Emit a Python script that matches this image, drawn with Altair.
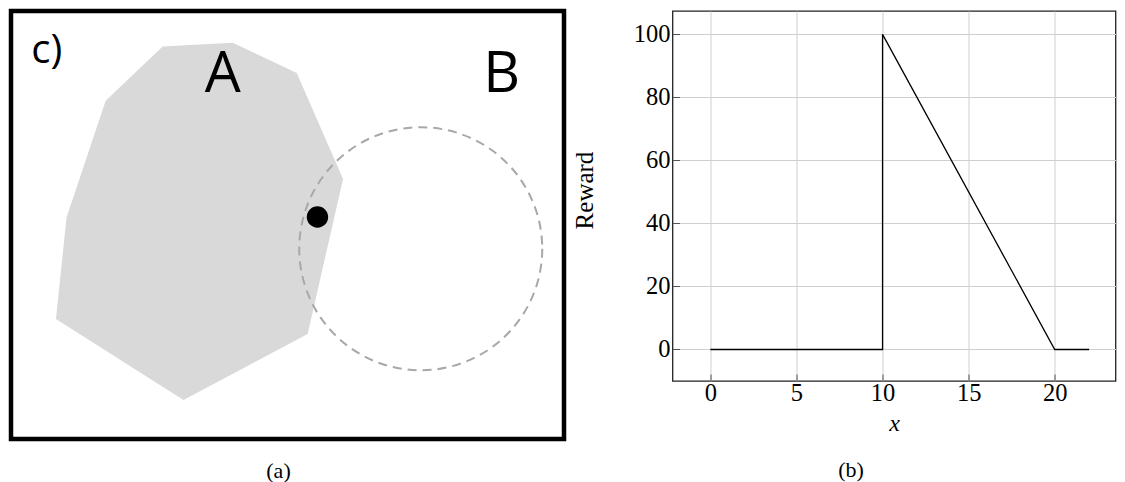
import math
import altair as alt
import pandas as pd

# ---------------- panel (a): diagram (coordinates in figure pixels) ----------------
poly_x = [161.9, 232.0, 296.0, 342.3, 306.9, 182.7, 55.2, 65.8, 104.9]
poly_y = [45.7, 42.0, 72.3, 178.3, 333.3, 399.3, 318.3, 216.7, 100.0]
circle_x = [420.0]
circle_y = [248.0]
circle_r = 121.5
dot_x = [316.7]
dot_y = [216.3]
dot_r = 10.7
label_text = ["c)", "A", "B"]
label_x = [46.0, 222.0, 501.0]
label_y = [62.5, 91.7, 91.7]
label_size = [40, 57, 57]

# ---------------- panel (b): reward curve ----------------
reward_x = [0, 10, 10, 20, 22]
reward_y = [0, 0, 100, 0, 0]
x_ticks = [0, 5, 10, 15, 20]
y_ticks = [0, 20, 40, 60, 80, 100]

ORIGIN = 10.25
proj = dict(type="identity", scale=1, translate=[-ORIGIN, -ORIGIN])

ring = [[x, y] for x, y in zip(poly_x, poly_y)]
ring.append(ring[0])
feature = {"type": "Feature", "properties": {},
           "geometry": {"type": "Polygon", "coordinates": [ring]}}

poly = alt.Chart(alt.Data(values=[feature])).mark_geoshape(
    fill="#d9d9d9", strokeWidth=0
).project(**proj)

circ_df = pd.DataFrame({"cx": circle_x, "cy": circle_y})
circle = alt.Chart(circ_df).mark_point(
    shape="circle", filled=False, stroke="#a8a8a8", strokeWidth=2,
    strokeDash=[9, 6], size=(2 * circle_r) ** 2, opacity=1
).encode(longitude="cx:Q", latitude="cy:Q").project(**proj)

dot_df = pd.DataFrame({"dx": dot_x, "dy": dot_y})
dot = alt.Chart(dot_df).mark_point(
    shape="circle", filled=True, fill="black", size=(2 * dot_r) ** 2, opacity=1,
    strokeWidth=0
).encode(longitude="dx:Q", latitude="dy:Q").project(**proj)

lab_df = pd.DataFrame({"t": label_text, "lx": label_x, "ly": label_y, "s": label_size})
labels = alt.Chart(lab_df).mark_text(
    font="Open Sans", align="center", baseline="alphabetic", color="black"
).encode(
    longitude="lx:Q", latitude="ly:Q", text="t:N",
    size=alt.Size("s:Q", scale=None, legend=None)
).project(**proj)

panel_a = alt.layer(poly, circle, dot, labels).properties(
    width=553, height=428,
    view=alt.ViewBackground(stroke="black", strokeWidth=4.5, fill="white"),
    title=alt.TitleParams(text="(a)", orient="bottom", font="Liberation Serif",
                          fontSize=22, fontWeight="normal", color="black",
                          offset=22, dx=-9),
)

# ---------------- panel (b) ----------------
df = pd.DataFrame({"x": reward_x, "reward": reward_y, "k": list(range(len(reward_x)))})

axis_common = dict(
    grid=True, gridColor="#cfcfcf", gridWidth=1, domain=False,
    offset=-7, tickSize=7, tickColor="#555555", tickWidth=1,
    labelFont="Liberation Serif", labelFontSize=24.5, labelColor="black",
    labelOverlap=False,
    titleFont="Liberation Serif", titleFontWeight="normal",
    titleColor="black",
)

line = alt.Chart(df).mark_line(color="black", strokeWidth=1.3).encode(
    x=alt.X("x:Q", scale=alt.Scale(domain=[-2.2, 23.53], nice=False, zero=False),
            axis=alt.Axis(values=x_ticks, title="x", titleFontStyle="italic",
                          titleFontSize=24, labelPadding=0, titlePadding=7,
                          **axis_common)),
    y=alt.Y("reward:Q", scale=alt.Scale(domain=[-10, 107.4], nice=False, zero=False),
            axis=alt.Axis(values=y_ticks, title="Reward", titleFontSize=25,
                          labelPadding=2.5, titlePadding=36, titleY=179,
                          **axis_common)),
    order=alt.Order("k:Q"),
)

panel_b = line.properties(
    width=443, height=370,
    view=alt.ViewBackground(stroke="#222222", strokeWidth=1.3, fill="white"),
    title=alt.TitleParams(text="(b)", orient="bottom", font="Liberation Serif",
                          fontSize=22, fontWeight="normal", color="black",
                          offset=24, dx=-43),
)

chart = alt.hconcat(panel_a, panel_b, spacing=108.5, bounds="flush").properties(
    padding={"left": 0, "top": 0, "right": 0, "bottom": 0}
).configure(background="white")

chart.save("out.html", embed_options={"renderer": "svg", "actions": False})
